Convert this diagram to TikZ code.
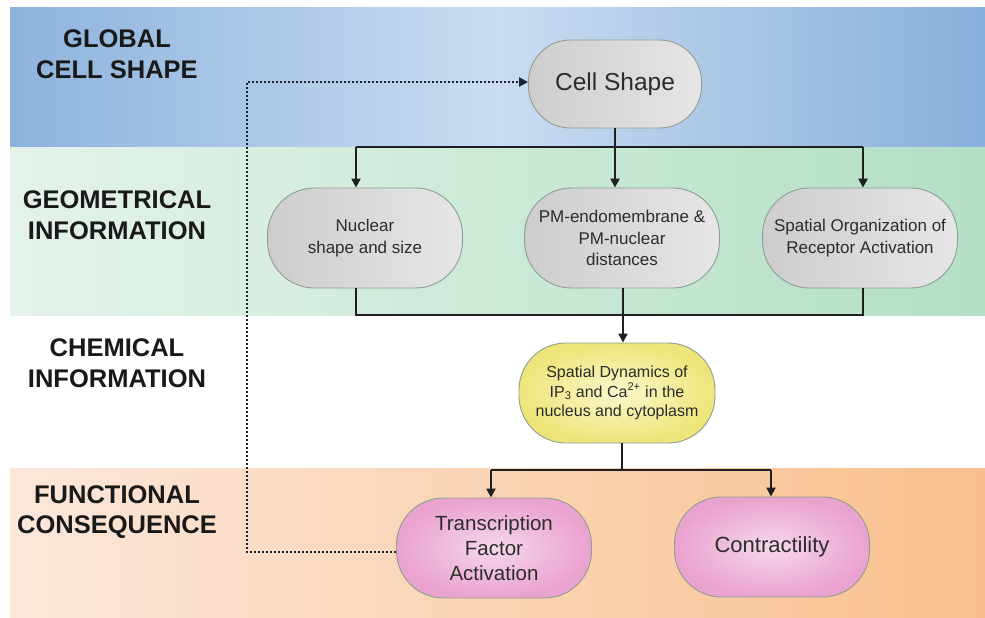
\documentclass[tikz,border=0pt]{standalone}
\usepackage{fontspec}
\setmainfont{Liberation Sans}
\usetikzlibrary{arrows.meta}
\definecolor{blueL}{HTML}{8DB3DD}
\definecolor{blueM}{HTML}{C9DCF1}
\definecolor{blueR}{HTML}{88AFDA}
\definecolor{greenL}{HTML}{E4F3EA}
\definecolor{greenR}{HTML}{B3DFC5}
\definecolor{orangeL}{HTML}{FCE7DA}
\definecolor{orangeR}{HTML}{F8C08E}
\definecolor{grayL}{HTML}{CDCDCD}
\definecolor{grayR}{HTML}{E6E6E6}
\definecolor{boxline}{HTML}{8E9E8E}
\definecolor{pinkO}{HTML}{EAA2CF}
\definecolor{pinkI}{HTML}{F5D8EA}
\definecolor{yelO}{HTML}{EEE57A}
\definecolor{yelI}{HTML}{FBF7CC}
\definecolor{txt}{HTML}{2C2C2C}
\definecolor{dotc}{HTML}{1C2333}
\tikzset{
  band/.style={draw=none},
  lbl/.style={font=\fontsize{25.5}{30.5}\selectfont\bfseries, align=center, text=black!90},
  graybox/.style={draw=boxline, line width=0.9pt, rounded corners=47pt, minimum width=195pt, minimum height=100pt, left color=grayL, right color=grayR, align=center, text=txt, inner sep=2pt},
  pinkbox/.style={draw=boxline, line width=0.9pt, rounded corners=47pt, minimum width=195pt, minimum height=100pt, inner color=pinkI, outer color=pinkO, align=center, text=txt, inner sep=2pt},
  yelbox/.style={draw=boxline, line width=0.9pt, rounded corners=47pt, minimum width=196pt, minimum height=100pt, inner color=yelI, outer color=yelO, align=center, text=txt, inner sep=2pt},
  conn/.style={line width=2.8pt, black!88},
  arr/.style={conn, -{Triangle[length=9pt,width=9pt]}},
  dotarr/.style={line width=2.4pt, dotc, dash pattern=on 2pt off 2pt, -{Triangle[length=9pt,width=9pt]}}
}
\begin{document}
\begin{tikzpicture}[x=1pt,y=-1pt]
\useasboundingbox (0,0) rectangle (985,618);
\fill[white] (0,0) rectangle (985,618);
% bands
\shade[band, left color=blueL, right color=blueR, middle color=blueM] (10,8) rectangle (985,147);
\shade[band, left color=greenL, right color=greenR] (10,147) rectangle (985,315);
\shade[band, left color=orangeL, right color=orangeR] (10,468) rectangle (985,618);
% labels
\node[lbl] (l1) at (117,54) {GLOBAL\\CELL SHAPE};
\node[lbl] (l2) at (117,215) {GEOMETRICAL\\INFORMATION};
\node[lbl] (l3) at (117,363) {CHEMICAL\\INFORMATION};
\node[lbl] (l4) at (117,512) {FUNCTIONAL\\CONSEQUENCE};
% nodes
\node[graybox, minimum width=173pt, minimum height=88pt, rounded corners=42pt, font=\fontsize{24.5}{28}\selectfont] (cs) at (615,84) {Cell Shape};
\node[graybox, font=\fontsize{17}{22}\selectfont] (nuc) at (365,238) {Nuclear\\shape and size};
\node[graybox, font=\fontsize{17}{21.5}\selectfont] (pm) at (622,238) {PM-endomembrane \&\\PM-nuclear\\distances};
\node[graybox, font=\fontsize{17}{21.5}\selectfont] (sor) at (860,238) {Spatial Organization of\\Receptor Activation};
\node[yelbox, font=\fontsize{16}{19.5}\selectfont] (sd) at (617,393) {Spatial Dynamics of\\IP\textsubscript{3} and Ca\textsuperscript{2+} in the\\nucleus and cytoplasm};
\node[pinkbox, font=\fontsize{20.5}{25}\selectfont] (tf) at (494,548) {Transcription\\Factor\\Activation};
\node[pinkbox, font=\fontsize{22}{26}\selectfont] (con) at (772,547) {Contractility};
% junction coordinates
\coordinate (t1) at (615,147);
\coordinate (tL) at (356,147);
\coordinate (tR) at (863,147);
\coordinate (b1) at (623,315);
\coordinate (bL) at (356,315);
\coordinate (bR) at (863,315);
\coordinate (c1) at (622,470);
\coordinate (cL) at (491,470);
\coordinate (cR) at (771,470);
\coordinate (d1) at (247,552);
\coordinate (d2) at (247,82);
% connectors top
\draw[conn] (cs.south) -- (t1);
\draw[conn] (tL) -- (tR);
\draw[arr] (tL) -- (tL |- nuc.north);
\draw[arr] (t1) -- (t1 |- pm.north);
\draw[arr] (tR) -- (tR |- sor.north);
% connectors middle
\draw[conn] (bL |- nuc.south) -- (bL) -- (bR) -- (bR |- sor.south);
\draw[conn] (b1 |- pm.south) -- (b1);
\draw[arr] (b1) -- (b1 |- sd.north);
% connectors bottom
\draw[conn] (sd.south -| c1) -- (c1);
\draw[conn] (cL) -- (cR);
\draw[arr] (cL) -- (cL |- tf.north);
\draw[arr] (cR) -- (cR |- con.north);
% dotted feedback
\draw[dotarr] (tf.west |- d1) -- (d1) -- (d2) -- (d2 -| cs.west);
\end{tikzpicture}
\end{document}
